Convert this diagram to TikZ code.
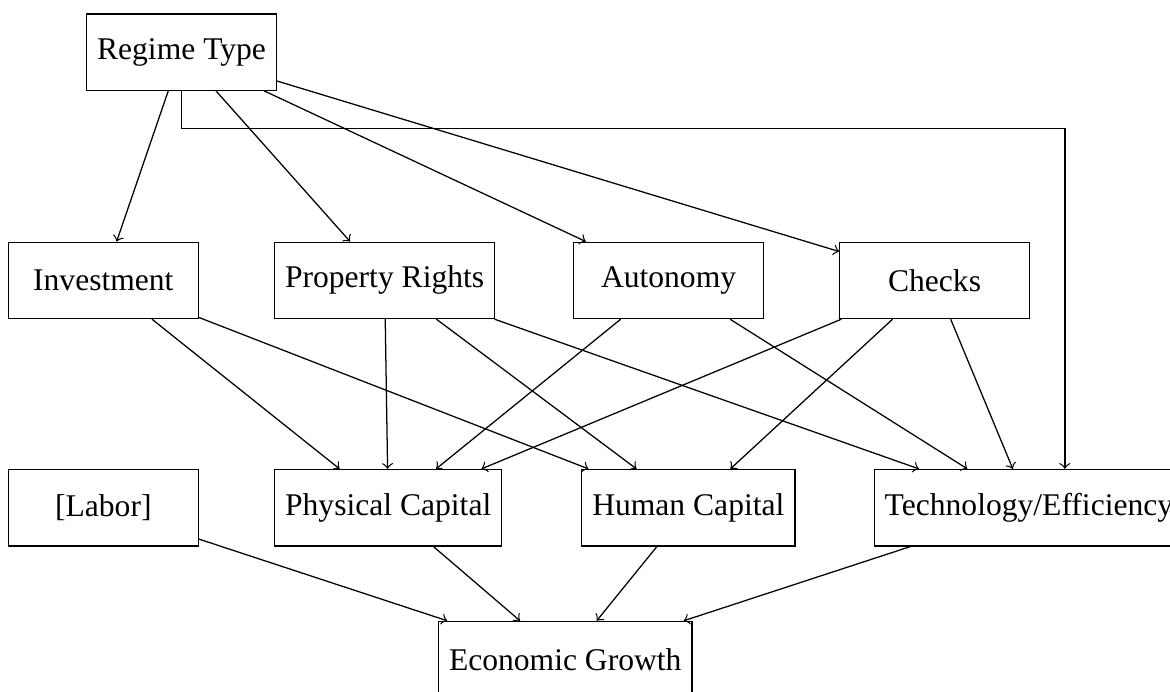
\documentclass[tikz,border=0pt]{standalone}
\usepackage{fontspec}
\setmainfont{Liberation Serif}
\tikzset{
	boxnode/.style={
			draw=black,
			rectangle,
			fill=white,
			minimum width=2.11cm,
			minimum height=0.85cm,
			inner sep=3.33pt
		}
}

\begin{document}
\begin{tikzpicture}
\useasboundingbox (0,0) rectangle (13.02,-7.70);
\node[boxnode] (regime) at (2.02,-0.58)  { Regime Type };

\node[boxnode] (invest) at (1.15,-3.12)  { Investment };
\node[boxnode] (rights) at (4.28,-3.12)  { Property Rights };
\node[boxnode] (auton) at (7.44,-3.12)  { Autonomy };
\node[boxnode] (checks) at (10.40,-3.12)  { Checks };

\node[boxnode] (labor) at (1.15,-5.65)  { [Labor] };
\node[boxnode] (phys) at (4.32,-5.65)  { Physical Capital };
\node[boxnode] (human) at (7.66,-5.65)  { Human Capital };
\node[boxnode] (tech) at (11.45,-5.65)  { Technology/Efficiency };

\node[boxnode] (growth) at (6.29,-7.34)  { Economic Growth };

\draw[->] (regime) -- (invest);
\draw[->] (regime) -- (rights);
\draw[->] (regime) -- (auton);
\draw[->] (regime) -- (checks);
\draw[->] (regime.south) -- ++(0,-0.42) -| ([xshift=0.4cm]tech.north);

\draw[->] (invest) -- (phys);
\draw[->] (invest) -- (human);

\draw[->] (rights) -- (phys);
\draw[->] (rights) -- (human);
\draw[->] (rights) -- (tech);

\draw[->] (auton) -- (phys);
\draw[->] (auton) -- (tech);

\draw[->] (checks) -- (phys);
\draw[->] (checks) -- (human);
\draw[->] (checks) -- (tech);

\draw[->] (labor) -- (growth);
\draw[->] (phys) -- (growth);
\draw[->] (human) -- (growth);
\draw[->] (tech) -- (growth);

\end{tikzpicture}
\end{document}
